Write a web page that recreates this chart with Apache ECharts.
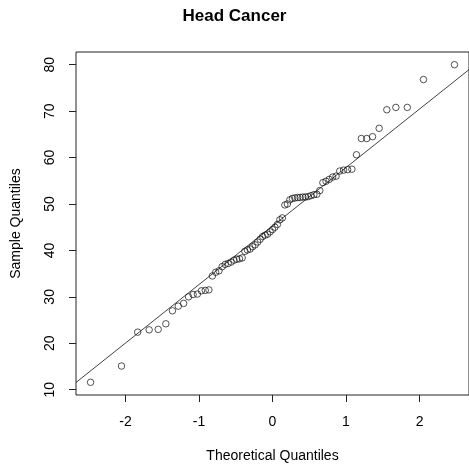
<!DOCTYPE html>
<html><head><meta charset="utf-8">
<script src="https://cdn.jsdelivr.net/npm/echarts@6/dist/echarts.min.js"></script>
<style>html,body{margin:0;padding:0;background:#fff}#c{width:469px;height:470px}</style>
</head><body><div id="c"></div>
<script>
// Theoretical normal quantiles (n = 75)
const theoretical = [-2.475,-2.054,-1.834,-1.678,-1.555,-1.451,-1.361,-1.282,-1.209,-1.142,-1.080,-1.022,-0.967,-0.915,-0.865,-0.818,-0.772,-0.728,-0.685,-0.643,-0.603,-0.563,-0.524,-0.486,-0.449,-0.412,-0.376,-0.341,-0.305,-0.271,-0.236,-0.202,-0.168,-0.134,-0.100,-0.067,-0.033,0,0.033,0.067,0.100,0.134,0.168,0.202,0.236,0.271,0.305,0.341,0.376,0.412,0.449,0.486,0.524,0.563,0.603,0.643,0.685,0.728,0.772,0.818,0.865,0.915,0.967,1.022,1.080,1.142,1.209,1.282,1.361,1.451,1.555,1.678,1.834,2.054,2.475];
// Sorted sample values
const sample = [11.6,15.1,22.4,22.9,23.0,24.2,27.0,28.0,28.6,30.0,30.5,30.6,31.3,31.4,31.5,34.5,35.3,35.6,36.5,37.0,37.2,37.5,37.9,38.1,38.2,38.4,39.8,40.1,40.3,40.8,41.2,41.8,42.4,43.0,43.3,43.5,44.0,44.5,45.0,45.6,46.6,47.0,49.8,50.0,50.9,51.2,51.3,51.4,51.4,51.5,51.5,51.6,51.8,52.0,52.1,52.9,54.6,54.9,55.3,55.8,56.0,57.1,57.3,57.4,57.5,60.6,64.1,64.1,64.5,66.3,70.3,70.8,70.8,76.8,80.0];
const xTicks = [-2,-1,0,1,2];
const yTicks = [10,20,30,40,50,60,70,80];
const titleText = 'Head Cancer';
const xName = 'Theoretical Quantiles';
const yName = 'Sample Quantiles';

function quantile7(s, p){ const h=(s.length-1)*p, lo=Math.floor(h); return s[lo]+(h-lo)*(s[Math.min(lo+1,s.length-1)]-s[lo]); }
const zq = 0.6744897502;
const q1 = quantile7(sample,0.25), q3 = quantile7(sample,0.75);
const slope = (q3-q1)/(2*zq), intercept = q1 + slope*zq;

const xmn = Math.min(...theoretical), xmx = Math.max(...theoretical);
const ymn = Math.min(...sample), ymx = Math.max(...sample);
const xMin = xmn-0.04*(xmx-xmn), xMax = xmx+0.04*(xmx-xmn);
const yMin = ymn-0.04*(ymx-ymn), yMax = ymx+0.04*(ymx-ymn);

const points = theoretical.map((x,i)=>[x,sample[i]]);
const lineData = [[xMin, intercept+slope*xMin],[xMax, intercept+slope*xMax]];

const FONT = '"Liberation Sans", Arial, sans-serif';
const chart = echarts.init(document.getElementById('c'), null, {renderer:'canvas'});
chart.setOption({
  animation:false,
  backgroundColor:'#fff',
  title:{text:titleText,left:'center',top:8,padding:0,
    textStyle:{fontFamily:FONT,fontSize:17,fontWeight:'bold',color:'#000'}},
  grid:{left:76,top:52,right:-4,bottom:75,show:true,borderColor:'#222',borderWidth:1,backgroundColor:'transparent'},
  xAxis:{type:'value',min:xMin,max:xMax,position:'bottom',
    name:xName,nameLocation:'middle',nameGap:61,
    nameTextStyle:{fontFamily:FONT,fontSize:14,color:'#000',verticalAlign:'middle'},
    axisLine:{show:false,onZero:false},splitLine:{show:false},
    axisTick:{show:true,length:7,customValues:xTicks,lineStyle:{color:'#222',width:1}},
    axisLabel:{customValues:xTicks,margin:27,fontFamily:FONT,fontSize:14,color:'#000',verticalAlign:'middle',align:'center'}},
  yAxis:{type:'value',min:yMin,max:yMax,position:'left',
    name:yName,nameLocation:'middle',nameGap:60,nameRotate:90,
    nameTextStyle:{fontFamily:FONT,fontSize:14,color:'#000',verticalAlign:'middle',align:'center'},
    axisLine:{show:false,onZero:false},splitLine:{show:false},
    axisTick:{show:true,length:7,customValues:yTicks,lineStyle:{color:'#222',width:1}},
    axisLabel:{customValues:yTicks,rotate:90,margin:26,fontFamily:FONT,fontSize:14,color:'#000',align:'center',verticalAlign:'middle'}},
  series:[
    {type:'line',data:lineData,symbol:'none',silent:true,
      lineStyle:{color:'#111',width:0.8},z:1},
    {type:'scatter',data:points,symbol:'circle',symbolSize:6.5,
      itemStyle:{color:'rgba(0,0,0,0)',borderColor:'#111',borderWidth:0.9},z:2}
  ]
});
</script></body></html>
